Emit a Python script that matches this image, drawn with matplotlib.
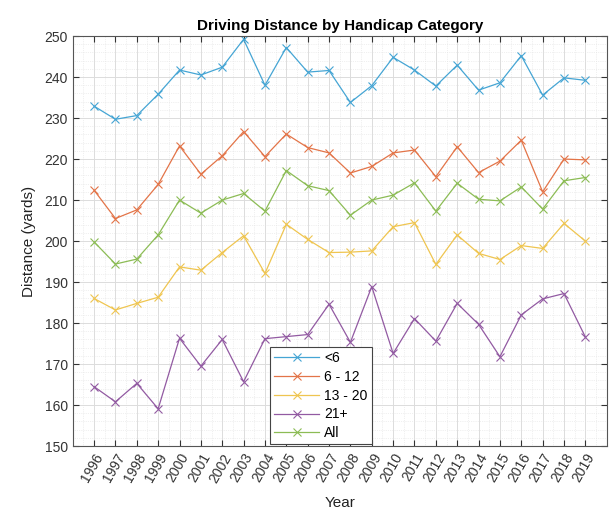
import numpy as np
import matplotlib
matplotlib.use("Agg")
import matplotlib.pyplot as plt
from matplotlib.ticker import MultipleLocator

# ── data ──────────────────────────────────────────
years = list(range(1996, 2020))
under6 = [232.9, 229.7, 230.6, 235.8, 241.7, 240.5, 242.4, 249.2, 238.0, 247.2, 241.2, 241.6,
          233.8, 237.9, 244.8, 241.7, 237.8, 242.9, 236.8, 238.6, 245.2, 235.6, 239.8, 239.2]
h6_12 = [212.4, 205.5, 207.6, 213.8, 223.2, 216.3, 220.8, 226.7, 220.6, 226.1, 222.8, 221.5,
         216.6, 218.2, 221.5, 222.2, 215.7, 223.0, 216.7, 219.5, 224.6, 212.0, 220.0, 219.8]
h13_20 = [186.0, 183.2, 184.8, 186.3, 193.7, 192.9, 197.2, 201.3, 192.1, 204.1, 200.4, 197.2,
          197.3, 197.6, 203.5, 204.5, 194.3, 201.5, 197.0, 195.5, 198.9, 198.2, 204.3, 200.0]
h21p = [164.5, 160.8, 165.3, 159.1, 176.3, 169.5, 176.0, 165.7, 176.2, 176.7, 177.2, 184.6,
        175.3, 188.9, 172.6, 181.1, 175.6, 184.8, 179.7, 171.8, 182.0, 185.9, 187.2, 176.6]
all_cat = [199.8, 194.4, 195.6, 201.5, 210.0, 206.8, 210.0, 211.6, 207.3, 217.2, 213.5, 212.3,
           206.3, 210.0, 211.2, 214.2, 207.3, 214.1, 210.2, 209.8, 213.2, 207.8, 214.7, 215.5]
labels = ["<6", "6 - 12", "13 - 20", "21+", "All"]
colors = ["#45a5d4", "#e37448", "#efc550", "#925aa2", "#8cbc55"]

# ── plot ──────────────────────────────────────────
plt.rcParams.update({"font.family": ["Liberation Sans", "DejaVu Sans"], "font.size": 10})
fig = plt.figure(figsize=(6.11, 5.11), dpi=100)
ax = fig.add_axes([0.119, 0.127, 0.874, 0.8025])

for ser, lab, c in zip([under6, h6_12, h13_20, h21p, all_cat], labels, colors):
    ax.plot(years, ser, color=c, marker="x", markersize=6, linewidth=0.9,
            markeredgewidth=0.8, label=lab)

ax.set_xlim(1995, 2020)
ax.set_ylim(150, 250)
ax.set_xticks(years)
ax.set_xticklabels([str(y) for y in years], rotation=60, ha="right",
                   rotation_mode="anchor", color="#333333")
ax.yaxis.set_major_locator(MultipleLocator(10))
ax.yaxis.set_minor_locator(MultipleLocator(2))
ax.xaxis.set_minor_locator(MultipleLocator(0.5))
ax.tick_params(which="both", direction="in", top=True, right=True, colors="#333333",
               labelsize=10)
ax.tick_params(which="major", length=4)
ax.tick_params(which="minor", length=0)
ax.grid(which="major", color="#dcdcdc", linewidth=0.7)
ax.grid(which="minor", color="#e2e2e2", linewidth=0.5, linestyle=":")
ax.set_axisbelow(True)
for sp in ax.spines.values():
    sp.set_color("#555555")
    sp.set_linewidth(0.8)

ax.set_title("Driving Distance by Handicap Category", fontweight="bold", fontsize=11, pad=4)
ax.set_ylabel("Distance (yards)", fontsize=11, color="#222222", labelpad=6)
ax.set_xlabel("Year", fontsize=11, color="#222222", labelpad=8)

leg = ax.legend(loc="lower left", bbox_to_anchor=(0.370, 0.004), borderaxespad=0,
                fancybox=False, framealpha=1, edgecolor="#444444", fontsize=10,
                handlelength=3.2, borderpad=0.3, labelspacing=0.35, handletextpad=0.4)
leg.get_frame().set_linewidth(0.8)

fig.savefig("out.png", dpi=100)
